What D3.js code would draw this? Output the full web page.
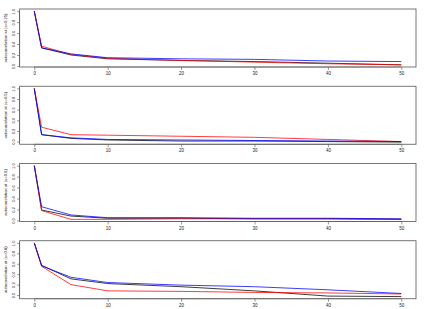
<!DOCTYPE html>
<html>
<head>
<meta charset="utf-8">
<script src="https://cdn.jsdelivr.net/npm/d3@7"></script>
<style>
  body { margin: 0; background: #fff; }
  text { font-family: "Liberation Sans", Arial, sans-serif; fill: #222; }
</style>
</head>
<body>
<div id="chart"></div>
<script>
// lags at which the autocorrelation was evaluated
const lags = [0, 1, 5, 10, 20, 30, 40, 50];

const panelTitles = [
    "autocorrelation at (s=0.25)",
    "autocorrelation at (s=0.5)",
    "autocorrelation at (s=0.6)",
    "autocorrelation at (s=0.8)"
];

// panel 1
const p1Black = [1.0, 0.33, 0.20, 0.13, 0.10, 0.08, 0.05, 0.02];
const p1Red   = [1.0, 0.36, 0.21, 0.14, 0.10, 0.07, 0.04, 0.02];
const p1Blue  = [1.0, 0.33, 0.22, 0.15, 0.13, 0.12, 0.09, 0.08];
// panel 2
const p2Black = [1.0, 0.13, 0.06, 0.03, 0.01, 0.01, 0.00, -0.01];
const p2Red   = [1.0, 0.27, 0.13, 0.12, 0.10, 0.08, 0.04, 0.00];
const p2Blue  = [1.0, 0.13, 0.07, 0.04, 0.03, 0.02, 0.01, 0.00];
// panel 3
const p3Black = [1.0, 0.19, 0.08, 0.04, 0.04, 0.03, 0.03, 0.02];
const p3Red   = [1.0, 0.18, 0.02, 0.02, 0.03, 0.03, 0.03, 0.02];
const p3Blue  = [1.0, 0.25, 0.10, 0.05, 0.05, 0.04, 0.04, 0.03];
// panel 4
const p4Black = [1.0, 0.57, 0.31, 0.22, 0.16, 0.08, -0.02, -0.03];
const p4Red   = [1.0, 0.55, 0.20, 0.08, 0.07, 0.05, 0.04, 0.02];
const p4Blue  = [1.0, 0.56, 0.34, 0.24, 0.19, 0.16, 0.10, 0.03];

const xTicks = [0, 10, 20, 30, 40, 50];
const yTicks = [0, 0.2, 0.4, 0.6, 0.8, 1.0];

const panels = [
    [p1Black, p1Red, p1Blue],
    [p2Black, p2Red, p2Blue],
    [p3Black, p3Red, p3Blue],
    [p4Black, p4Red, p4Blue]
];
const colors = ["#000000", "#ff0000", "#0000ff"];

const W = 436, H = 309;
const left = 19.6, right = 416;
const panelStep = 77.25, boxTop = 9, boxH = 58;

const svg = d3.select("#chart")
    .append("svg")
    .attr("width", W)
    .attr("height", H);

// R-style 4% axis extension
function pad(ext) {
    const d = (ext[1] - ext[0]) * 0.04;
    return [ext[0] - d, ext[1] + d];
}

const x = d3.scaleLinear()
    .domain(pad(d3.extent(lags)))
    .range([left, right]);

panels.forEach((series, i) => {
    const top = boxTop + i * panelStep;
    const bottom = top + boxH;
    const g = svg.append("g");

    const all = series.flat();
    const y = d3.scaleLinear()
        .domain(pad(d3.extent(all)))
        .range([bottom, top]);

    // lines
    const line = d3.line()
        .x((d, j) => x(lags[j]))
        .y(d => y(d));

    series.forEach((vals, k) => {
        g.append("path")
            .datum(vals)
            .attr("d", line)
            .attr("fill", "none")
            .attr("stroke", colors[k])
            .attr("stroke-opacity", 0.85)
            .attr("stroke-width", 0.9);
    });

    // box
    g.append("rect")
        .attr("x", left)
        .attr("y", top)
        .attr("width", right - left)
        .attr("height", boxH)
        .attr("fill", "none")
        .attr("stroke", "#555")
        .attr("stroke-width", 0.8);

    // x axis
    const xa = g.append("g")
        .attr("transform", `translate(0,${bottom})`)
        .call(d3.axisBottom(x).tickValues(xTicks).tickSize(3).tickPadding(2));
    xa.select(".domain").attr("stroke", "#555").attr("stroke-width", 0.6)
        .attr("d", `M${x(0)},0H${x(50)}`);
    xa.selectAll(".tick line").attr("stroke", "#555").attr("stroke-width", 0.6);
    xa.selectAll(".tick text").attr("font-size", 4.5).attr("fill", "#333")
        .style("font-family", "Liberation Sans, Arial, sans-serif");

    // y axis
    const ya = g.append("g")
        .attr("transform", `translate(${left},0)`)
        .call(d3.axisLeft(y).tickValues(yTicks).tickSize(2.5).tickFormat(d3.format(".1f")));
    ya.select(".domain").attr("stroke", "#555").attr("stroke-width", 0.6)
        .attr("d", `M0,${y(0)}V${y(1)}`);
    ya.selectAll(".tick line").attr("stroke", "#555").attr("stroke-width", 0.6);
    ya.selectAll(".tick text")
        .attr("font-size", 4)
        .attr("fill", "#333")
        .attr("x", null)
        .attr("dy", null)
        .attr("text-anchor", "middle")
        .attr("transform", "translate(-6,0) rotate(-90)")
        .attr("dominant-baseline", "middle")
        .style("font-family", "Liberation Sans, Arial, sans-serif");

    // y title
    g.append("text")
        .attr("transform", `translate(6,${top + boxH / 2}) rotate(-90)`)
        .attr("text-anchor", "middle")
        .attr("dominant-baseline", "middle")
        .attr("font-size", 4.2)
        .attr("fill", "#333")
        .text(panelTitles[i]);
});
</script>
</body>
</html>
